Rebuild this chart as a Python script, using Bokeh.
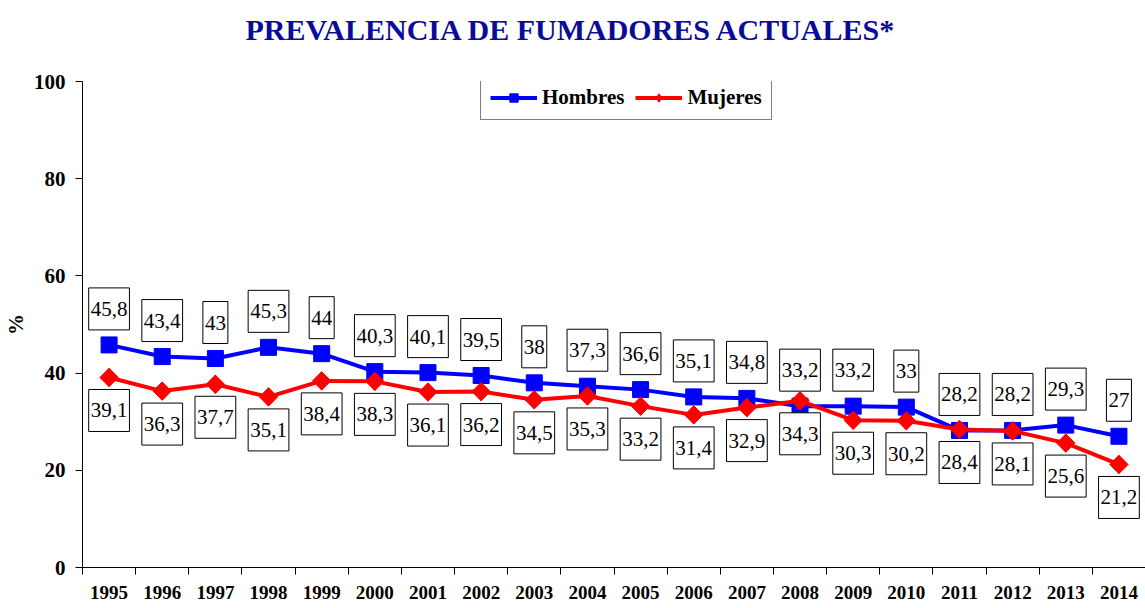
from bokeh.plotting import figure
from bokeh.models import (Range1d, FixedTicker, ColumnDataSource, Label, Legend,
                          LegendItem, Title)
from bokeh.embed import file_html
from bokeh.resources import INLINE
import numpy as np

years = [1995, 1996, 1997, 1998, 1999, 2000, 2001, 2002, 2003, 2004,
         2005, 2006, 2007, 2008, 2009, 2010, 2011, 2012, 2013, 2014]
hombres = [45.8, 43.4, 43, 45.3, 44, 40.3, 40.1, 39.5, 38, 37.3,
           36.6, 35.1, 34.8, 33.2, 33.2, 33, 28.2, 28.2, 29.3, 27]
mujeres = [39.1, 36.3, 37.7, 35.1, 38.4, 38.3, 36.1, 36.2, 34.5, 35.3,
           33.2, 31.4, 32.9, 34.3, 30.3, 30.2, 28.4, 28.1, 25.6, 21.2]
y_ticks = [0, 20, 40, 60, 80, 100]

title_text = "PREVALENCIA DE FUMADORES ACTUALES*"
SERIF = "Liberation Serif"


def fmt(v):
    return f"{v:g}".replace(".", ",")


src_h = ColumnDataSource(dict(x=years, y=hombres))
src_m = ColumnDataSource(dict(x=years, y=mujeres))

W, H = 1145, 608
p = figure(width=W, height=H, output_backend="svg", toolbar_location=None,
           x_range=Range1d(years[0] - 0.5, years[-1] + 0.5),
           y_range=Range1d(0, 100),
           min_border_left=82, min_border_right=0, min_border_top=81,
           min_border_bottom=41)
p.outline_line_color = None
p.xgrid.grid_line_color = None
p.ygrid.grid_line_color = None
p.background_fill_color = "white"
p.border_fill_color = "white"

# spacer between title and frame, then the title itself
p.add_layout(Title(text=" ", text_font=SERIF, text_font_size="17px"), "above")
t = Title(text=title_text, text_font=SERIF, text_font_style="bold",
          text_font_size="30px", text_color="#0b0b9a", align="left", offset=163)
p.add_layout(t, "above")

# x axis
xa = p.xaxis[0]
xa.ticker = FixedTicker(ticks=years,
                        minor_ticks=[y - 0.5 for y in years] + [years[-1] + 0.5])
xa.major_tick_line_color = None
xa.minor_tick_line_color = "black"
xa.minor_tick_out = 7
xa.minor_tick_in = 0
xa.axis_line_color = "black"
xa.major_label_text_font = SERIF
xa.major_label_text_font_style = "bold"
xa.major_label_text_font_size = "19px"
xa.major_label_text_color = "black"
xa.major_label_standoff = 11

# y axis
ya = p.yaxis[0]
ya.ticker = FixedTicker(ticks=y_ticks)
ya.major_tick_out = 7
ya.major_tick_in = 0
ya.minor_tick_line_color = None
ya.axis_line_color = "black"
ya.major_label_text_font = SERIF
ya.major_label_text_font_style = "bold"
ya.major_label_text_font_size = "21px"
ya.major_label_text_color = "black"
ya.major_label_standoff = 10
ya.axis_label = "%"
ya.axis_label_text_font = SERIF
ya.axis_label_text_font_style = "bold"
ya.axis_label_text_font_size = "21px"
ya.axis_label_text_color = "black"
ya.axis_label_standoff = 3

# legend proxy markers (hidden beneath the real markers)
leg_h = p.scatter("x", "y", source=src_h, marker="square", size=12,
                  fill_color="#0000ff", line_color="#0000ff")
leg_m = p.scatter("x", "y", source=src_m, marker="diamond", size=18,
                  fill_color="#ff0000", line_color="#ff0000")

lh = p.line("x", "y", source=src_h, line_color="#0000ff", line_width=4)
mh = p.scatter("x", "y", source=src_h, marker="square", size=16,
               fill_color="#0000ff", line_color="#0000ff")
lm = p.line("x", "y", source=src_m, line_color="#ff0000", line_width=4)
mm = p.scatter("x", "y", source=src_m, marker="square", size=13, angle=np.pi / 4,
               fill_color="#ff0000", line_color="#ff0000")

pad = dict(left=2, right=2, top=14, bottom=14)
for vals, off in ((hombres, 36), (mujeres, -33)):
    for yr, v in zip(years, vals):
        p.add_layout(Label(x=yr, y=v, text=fmt(v), y_offset=off,
                           text_align="center", text_baseline="middle",
                           text_font=SERIF, text_font_size="21px",
                           text_color="black",
                           border_line_color="black", border_line_width=1,
                           background_fill_color="white", padding=pad))

legend = Legend(items=[LegendItem(label="Hombres", renderers=[lh, leg_h]),
                       LegendItem(label="Mujeres", renderers=[lm, leg_m])],
                orientation="horizontal", location=(398, 447),
                label_text_font=SERIF, label_text_font_style="bold",
                label_text_font_size="21px", label_text_color="black",
                glyph_width=47, glyph_height=21, label_standoff=5,
                spacing=11, padding=9, margin=0,
                border_line_color="black", border_line_width=1,
                background_fill_color="white", background_fill_alpha=1)
p.add_layout(legend)

open("out.html", "w").write(file_html(p, INLINE))
